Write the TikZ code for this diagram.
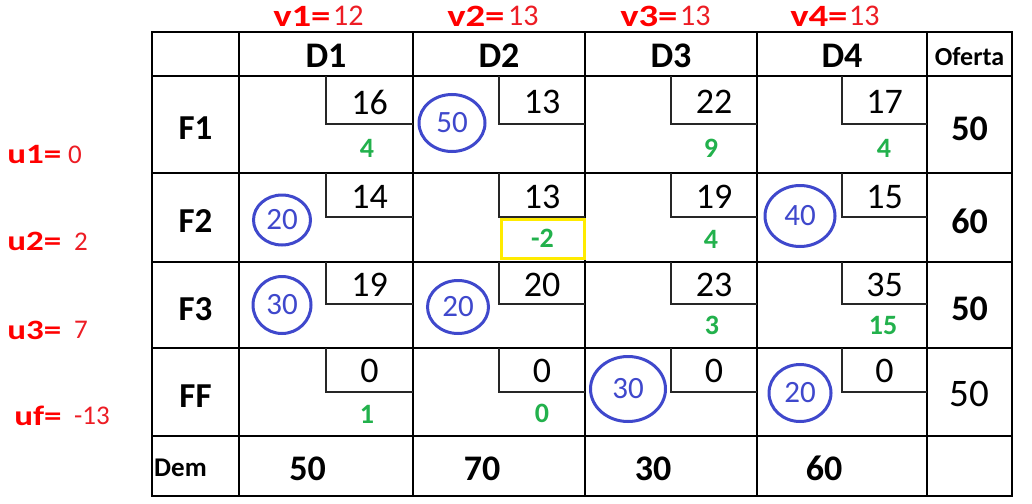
\documentclass[tikz,border=0pt]{standalone}
\usepackage{fontspec}
\setmainfont{Carlito}
\usepackage{tikz}
\usetikzlibrary{shapes.geometric}
\definecolor{dualred}{RGB}{255,0,0}
\definecolor{valred}{RGB}{237,28,36}
\definecolor{reducedgreen}{RGB}{34,177,76}
\definecolor{allocblue}{RGB}{63,72,204}
\definecolor{pivotyellow}{RGB}{255,235,0}
\newcommand{\fsz}[1]{\fontsize{#1}{#1}\selectfont}

\tikzset{
    grid line/.style={line width=2.7pt, line cap=rect},
    cost line/.style={line width=1.6pt, black!85},
    cost/.style={inner sep=0pt, font=\fsz{36}},
    reduced/.style={inner sep=0pt, text=reducedgreen, font=\fsz{28}\bfseries},
    alloc/.style={ellipse, draw=allocblue, line width=3pt, inner sep=0pt, text=allocblue, font=\fsz{31}},
    head/.style={inner sep=0pt, font=\fsz{36}\bfseries},
    dual/.style={inner sep=0pt, anchor=west, text=dualred, xscale=1.25},
    dualval/.style={inner sep=0pt, anchor=west, text=valred},
}

\begin{document}
\begin{tikzpicture}[x=1pt, y=-1pt]
    \fill[white] (0,0) rectangle (1032,503);
    \useasboundingbox (0,0) rectangle (1032,503);

    % Grid of the table
    \foreach \x in {152,239,413,585,757,927,1012} {
        \draw[grid line] (\x,32) -- (\x,496);
    }
    \foreach \y in {32,76,173,262,348,436,496} {
        \draw[grid line] (152,\y) -- (1012,\y);
    }

    % Cost boxes (upper right of each cell)
    \foreach \t/\b in {76/124,173/217,262/304,348/392} {
        \foreach \m/\r in {326/413,499/585,671/757,842/927} {
            \draw[cost line] (\m,\t) -- (\m,\b) -- (\r,\b);
        }
    }

    % Unit costs
    \foreach \x/\c [count=\j] in {369.5/16,542/13,714/22,884.5/17}
        \node[cost] (c1\j) at (\x,102) {\c};
    \foreach \x/\c [count=\j] in {369.5/14,542/13,714/19,884.5/15}
        \node[cost] (c2\j) at (\x,197) {\c};
    \foreach \x/\c [count=\j] in {369.5/19,542/20,714/23,884.5/35}
        \node[cost] (c3\j) at (\x,285) {\c};
    \foreach \x/\c [count=\j] in {369.5/0,542/0,714/0,884.5/0}
        \node[cost] (c4\j) at (\x,371) {\c};

    % Headers
    \foreach \x/\d in {326/D1,499/D2,671/D3,842/D4}
        \node[head] (\d) at (\x,56) {\d};
    \node[head, font=\fsz{26}\bfseries] (oferta) at (969.5,57) {Oferta};
    \foreach \y/\f in {128.5/F1,221.5/F2,309/F3,396/FF}
        \node[head, font=\fsz{35}\bfseries] (\f) at (195.5,\y) {\f};
    \node[head, font=\fsz{27}\bfseries, anchor=west] (dem) at (154,468) {Dem};

    % Supply and demand
    \foreach \y/\s [count=\i] in {128.5/50,221/60,308.5/50}
        \node[head] (s\i) at (969.5,\y) {\s};
    \node[cost, font=\fsz{39}] (s4) at (969.5,393.5) {50};
    \foreach \x/\d [count=\j] in {307.5/50,482/70,653/30,824/60}
        \node[head] (d\j) at (\x,468.5) {\d};

    % Allocations
    \foreach \x/\y/\w/\h/\v [count=\k] in {452/123/66/57/50, 282/220/57/50/20, 800/216/70/61/40, 282/305/58/57/30, 458/307/61/53/20, 628/389/75/65/30, 800/393/62/57/20}
        \node[alloc, minimum width=\w, minimum height=\h] (a\k) at (\x,\y) {\v};

    % Reduced costs
    \foreach \x/\y/\v [count=\k] in {367/148.5/4, 711/148.5/9, 884/148.5/4, 711/239.5/4, 712/325/3, 883/325/15, 367/414/1, 542/413/0}
        \node[reduced] (r\k) at (\x,\y) {\v};
    \node[reduced, draw=pivotyellow, line width=3pt, minimum width=83, minimum height=39] (pivot) at (542.5,238.5) {-2};

    % Dual values
    \foreach \x/\xv/\n/\v in {273/333/1/12, 447/508/2/13, 620/680/3/13, 790/849/4/13} {
        \node[dual, font=\fsz{31}\bfseries] (v\n) at (\x,16) {v\n=};
        \node[dualval, font=\fsz{30}] (vval\n) at (\xv,16) {\v};
    }
    \foreach \y/\n/\xv/\v in {155/1/68/0, 241.5/2/74/2, 330/3/74/7} {
        \node[dual, font=\fsz{28}\bfseries] (u\n) at (7,\y) {u\n=};
        \node[dualval, font=\fsz{27}] (uval\n) at (\xv,\y) {\v};
    }
    \node[dual, font=\fsz{28}\bfseries] (uf) at (14,416) {uf=};
    \node[dualval, font=\fsz{27}] (uvalf) at (74,416) {-13};
\end{tikzpicture}
\end{document}
